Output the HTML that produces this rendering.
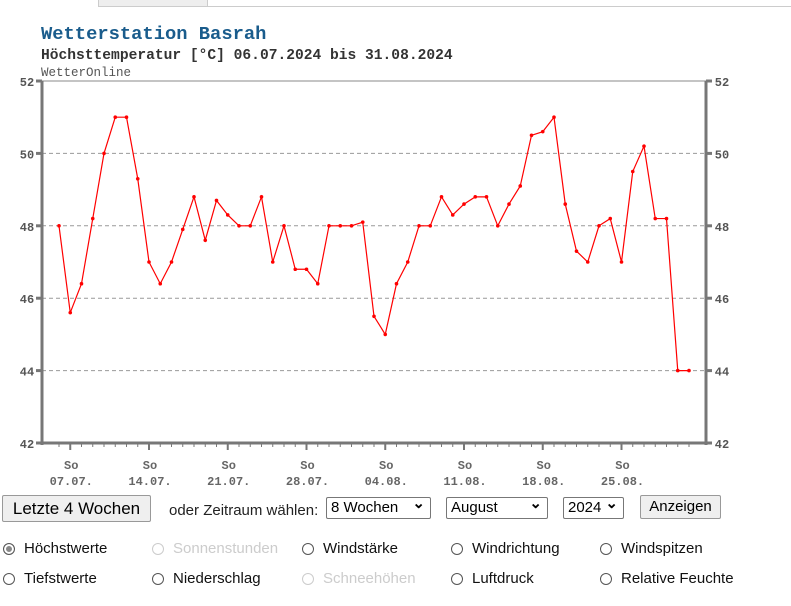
<!DOCTYPE html>
<html><head><meta charset="utf-8"><style>
body{margin:0;width:791px;height:606px;background:#fff;font-family:"Liberation Sans",sans-serif;position:relative;overflow:hidden}
.abs{position:absolute}
.btn{position:absolute;border:1px solid #999;background:#efefef;border-radius:2px;font-size:17px;box-sizing:border-box;text-align:center}
.sel{position:absolute;border:1px solid #777;border-radius:2px;font-size:15px;box-sizing:border-box;padding-left:4px;line-height:20px;height:22px}
.sel:after{content:"⌄";position:absolute;right:5px;top:-4px;font-weight:bold}
.rad{position:absolute;font-size:15px;color:#111}
.rad span{display:inline-block;width:12px;height:12px;border:1px solid #555;border-radius:50%;vertical-align:-2px;margin-right:9px;box-sizing:border-box}
.dis{color:#ccc}.dis span{border-color:#ccc}
</style></head><body>
<div class="abs" style="left:98px;top:0;width:108px;height:6px;border:1px solid #ccc;border-top:none;background:#eee"></div>
<div class="abs" style="left:206px;top:6px;width:585px;height:1px;background:#ccc"></div>
<svg class="abs" style="left:0;top:0" width="791" height="492">
<text x="41" y="39" font-family="Liberation Mono,monospace" font-weight="bold" font-size="18.8" fill="#1a5c8c">Wetterstation Basrah</text>
<text x="41" y="59" font-family="Liberation Mono,monospace" font-weight="bold" font-size="14.6" fill="#333">Höchsttemperatur [°C] 06.07.2024 bis 31.08.2024</text>
<text x="41" y="76" font-family="Liberation Mono,monospace" font-size="12.5" fill="#555">WetterOnline</text>
<g id="g"></g>
</svg>
<script>
const dates=["06.07.","07.07.","08.07.","09.07.","10.07.","11.07.","12.07.","13.07.","14.07.","15.07.","16.07.","17.07.","18.07.","19.07.","20.07.","21.07.","22.07.","23.07.","24.07.","25.07.","26.07.","27.07.","28.07.","29.07.","30.07.","31.07.","01.08.","02.08.","03.08.","04.08.","05.08.","06.08.","07.08.","08.08.","09.08.","10.08.","11.08.","12.08.","13.08.","14.08.","15.08.","16.08.","17.08.","18.08.","19.08.","20.08.","21.08.","22.08.","23.08.","24.08.","25.08.","26.08.","27.08.","28.08.","29.08.","30.08.","31.08."];
const values=[48.0,45.6,46.4,48.2,50.0,51.0,51.0,49.3,47.0,46.4,47.0,47.9,48.8,47.6,48.7,48.3,48.0,48.0,48.8,47.0,48.0,46.8,46.8,46.4,48.0,48.0,48.0,48.1,45.5,45.0,46.4,47.0,48.0,48.0,48.8,48.3,48.6,48.8,48.8,48.0,48.6,49.1,50.5,50.6,51.0,48.6,47.3,47.0,48.0,48.2,47.0,49.5,50.2,48.2,48.2,44.0,44.0];
const yTicks=[42,44,46,48,50,52];
const X0=42,X1=706,Y0=443,Y1=81;
const x=i=>59+i*(689-59)/(dates.length-1);
const y=v=>Y0-(v-42)/(52-42)*(Y0-Y1);
const g=document.getElementById('g'),NS="http://www.w3.org/2000/svg";
function mk(t,a,p){const e=document.createElementNS(NS,t);for(const k in a)e.setAttribute(k,a[k]);(p||g).appendChild(e);return e;}
yTicks.forEach(v=>{
 if(v>42){const l=mk('line',{x1:X0,x2:X1,y1:y(v),y2:y(v),stroke:v==52?'#5a5':'#999','stroke-dasharray':'4,3'});
 
 }
 const t1=mk('text',{x:27,y:y(v)+5,'text-anchor':'middle','font-family':'Liberation Mono,monospace','font-weight':'bold','font-size':12,fill:'#555'});t1.textContent=v;
 
 
 const t2=mk('text',{x:722,y:y(v)+5,'text-anchor':'middle','font-family':'Liberation Mono,monospace','font-weight':'bold','font-size':12,fill:'#555'});t2.textContent=v;
 
 
 mk('line',{x1:36,x2:42,y1:y(v),y2:y(v),stroke:'#777','stroke-width':3});
 mk('line',{x1:706,x2:712,y1:y(v),y2:y(v),stroke:'#777','stroke-width':3});
});
mk('rect',{x:X0,y:Y1,width:X1-X0,height:Y0-Y1,fill:'none',stroke:'#888','stroke-width':1});
mk('line',{x1:X0,x2:X0,y1:Y1,y2:Y0+2,stroke:'#777','stroke-width':3});
mk('line',{x1:X1,x2:X1,y1:Y1,y2:Y0+2,stroke:'#777','stroke-width':3});
mk('line',{x1:X0,x2:X1,y1:Y0,y2:Y0,stroke:'#777','stroke-width':3});
dates.forEach((d,i)=>{
 const sun=(i%7)==1;
 mk('line',{x1:x(i),x2:x(i),y1:Y0,y2:Y0+(sun?7:4),stroke:'#777','stroke-width':sun?2:1});
 if(sun){const t=mk('text',{x:x(i)+1,y:469,'text-anchor':'middle','font-family':'Liberation Mono,monospace','font-weight':'bold','font-size':12,fill:'#666'});t.textContent='So';
 
 
 const t2=mk('text',{x:x(i)+1,y:485,'text-anchor':'middle','font-family':'Liberation Mono,monospace','font-weight':'bold','font-size':12,fill:'#666'});t2.textContent=d;
 
 }
});
const pl=mk('polyline',{points:values.map((v,i)=>x(i)+','+y(v)).join(' '),fill:'none',stroke:'#f00','stroke-width':1.2});


values.forEach((v,i)=>{const c=mk('circle',{cx:x(i),cy:y(v),r:1.8,fill:'#f00'});
 
 });
</script>
<div class="btn" style="left:2px;top:495px;width:149px;height:27px;line-height:25px">Letzte 4 Wochen</div>
<div class="abs" style="left:169px;top:502px;font-size:15px;color:#222">oder Zeitraum wählen:</div>
<div class="sel" style="left:326px;top:497px;width:105px">8 Wochen</div>
<div class="sel" style="left:446px;top:497px;width:102px">August</div>
<div class="sel" style="left:563px;top:497px;width:61px">2024</div>
<div class="btn" style="left:640px;top:495px;width:81px;height:24px;line-height:22px;font-size:15px">Anzeigen</div>
<div class="rad" style="left:3px;top:540px"><span style="background:#888;box-shadow:inset 0 0 0 2px #fff;border-color:#555"></span>Höchstwerte</div>
<div class="rad dis" style="left:152px;top:540px"><span></span>Sonnenstunden</div>
<div class="rad" style="left:302px;top:540px"><span></span>Windstärke</div>
<div class="rad" style="left:451px;top:540px"><span></span>Windrichtung</div>
<div class="rad" style="left:600px;top:540px"><span></span>Windspitzen</div>
<div class="rad" style="left:3px;top:570px"><span></span>Tiefstwerte</div>
<div class="rad" style="left:152px;top:570px"><span></span>Niederschlag</div>
<div class="rad dis" style="left:302px;top:570px"><span></span>Schneehöhen</div>
<div class="rad" style="left:451px;top:570px"><span></span>Luftdruck</div>
<div class="rad" style="left:600px;top:570px"><span></span>Relative Feuchte</div>
</body></html>
